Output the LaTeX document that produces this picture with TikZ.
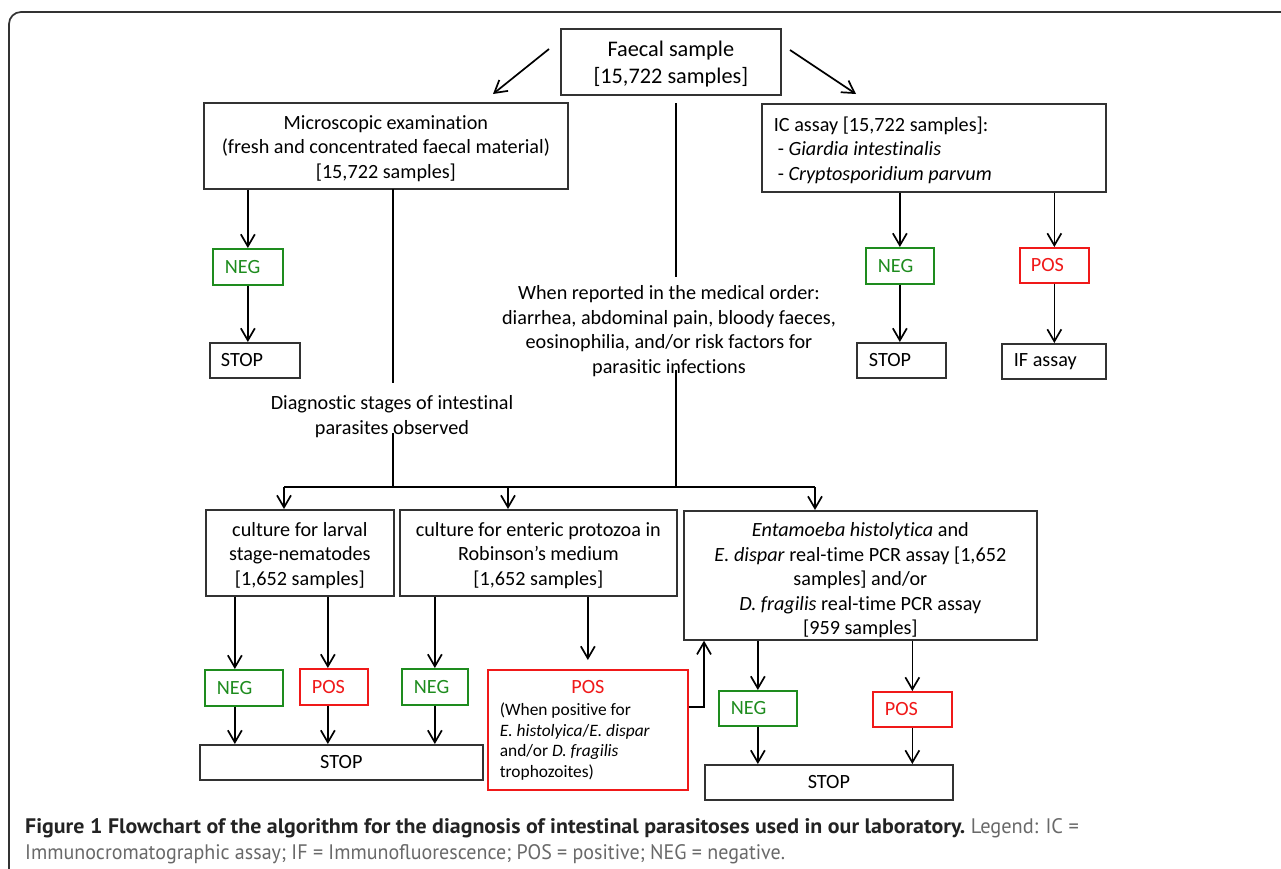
\documentclass[tikz,border=0pt]{standalone}
\usepackage{fontspec}
\setmainfont{Carlito}[Ligatures=NoCommon]
\newfontfamily\capfont{PT Sans}
\usetikzlibrary{arrows.meta}
\definecolor{negg}{RGB}{30,140,30}
\definecolor{posr}{RGB}{240,25,25}
\definecolor{boxg}{RGB}{50,50,50}
\definecolor{capgray}{RGB}{105,105,105}
\definecolor{capdark}{RGB}{35,35,35}
\tikzset{
  bx/.style={draw=boxg, line width=1.7pt, anchor=north west, inner sep=0pt,
    font=\fontsize{20.2}{24.5}\selectfont, align=center},
  lbx/.style={bx, align=flush left, inner xsep=12pt},
  negbx/.style={lbx, draw=negg, text=negg},
  posbx/.style={lbx, draw=posr, text=posr},
  txt/.style={inner sep=0pt, font=\fontsize{20.2}{24.5}\selectfont, align=center},
  ln/.style={line width=1.7pt},
  arr/.style={line width=1.7pt, -{Straight Barb[length=12pt,width=14pt,line width=1.7pt]}},
}
\begin{document}
\begin{tikzpicture}[x=1pt,y=-1pt]
\useasboundingbox (0,0) rectangle (1281,868);
\clip (0,0) rectangle (1281,868);
\fill[white] (0,0) rectangle (1281,868);
\draw[line width=1.7pt, draw=boxg, rounded corners=12pt] (9,12) rectangle (1310,900);

% top
\node[bx, minimum width=220pt, minimum height=66pt, font=\fontsize{22.3}{27}\selectfont] (faecal) at (560,28) {\rule{0pt}{20pt}Faecal sample\\{}[15,722 samples]};
\node[bx, minimum width=364pt, minimum height=86pt] (micro) at (203,102) {\rule{0pt}{19pt}Microscopic examination\\(fresh and concentrated faecal material)\\{}[15,722 samples]};
\node[lbx, minimum width=344pt, minimum height=88pt, text width=320pt] (ic) at (761,103) {\rule{0pt}{19pt}IC assay [15,722 samples]:\\\hspace*{4pt}- \textit{Giardia intestinalis}\\\hspace*{4pt}- \textit{Cryptosporidium parvum}};

\node[negbx, minimum width=70pt, minimum height=36pt, text width=46pt] (neg1) at (212,248) {NEG};
\node[lbx, minimum width=90pt, minimum height=35pt, text width=68pt, inner xsep=11pt] (stop1) at (209,342) {STOP};
\node[negbx, minimum width=68pt, minimum height=36pt, text width=44pt] (negic) at (865,247) {NEG};
\node[posbx, minimum width=69pt, minimum height=35pt, text width=47pt, inner xsep=11pt] (posic) at (1019,247) {POS};
\node[lbx, minimum width=89pt, minimum height=35pt, text width=65pt] (stopic) at (856,342) {STOP};
\node[lbx, minimum width=104pt, minimum height=35pt, text width=80pt] (ifa) at (1001,343) {IF assay};

\node[txt] (diag) at (392,416.5) {Diagnostic stages of intestinal\\parasites observed};
\node[txt] (when) at (669,331) {When reported in the medical order:\\diarrhea, abdominal pain, bloody faeces,\\eosinophilia, and/or risk factors for\\parasitic infections};

% bottom
\node[bx, minimum width=188pt, minimum height=86pt] (larval) at (205,509) {\rule{0pt}{19pt}culture for larval\\stage-nematodes\\{}[1,652 samples]};
\node[bx, minimum width=277pt, minimum height=86pt] (enteric) at (399,509) {\rule{0pt}{19pt}culture for enteric protozoa in\\Robinson’s medium\\{}[1,652 samples]};
\node[bx, minimum width=353pt, minimum height=129pt] (entam) at (683,510) {\rule{0pt}{24pt}\textit{Entamoeba histolytica} and\\\textit{E. dispar} real-time PCR assay [1,652\\samples] and/or\\\textit{D. fragilis} real-time PCR assay\\{}[959 samples]};

\node[negbx, minimum width=78pt, minimum height=36pt, text width=54pt] (neg2) at (204,669) {NEG};
\node[posbx, minimum width=68pt, minimum height=36pt, text width=44pt] (pos2) at (299,668) {POS};
\node[negbx, minimum width=66pt, minimum height=36pt, text width=42pt] (neg3) at (401,668) {NEG};
\node[bx, minimum width=283pt, minimum height=35pt] (stop2) at (199,744) {STOP};
\node[lbx, draw=posr, minimum width=200pt, minimum height=120pt, text width=176pt,
      font=\fontsize{17.4}{20.5}\selectfont] (posbig) at (487,669)
  {\textcolor{posr}{\makebox[176pt][c]{\fontsize{20.2}{24}\selectfont POS}}\\[2pt]
   (When positive for\\\textit{E. histolyica}/\textit{E. dispar}\\and/or \textit{D. fragilis}\\trophozoites)};
\node[negbx, minimum width=78pt, minimum height=35pt, text width=54pt] (neg4) at (718,690) {NEG};
\node[posbx, minimum width=79pt, minimum height=35pt, text width=55pt] (pos4) at (872,691) {POS};
\node[bx, minimum width=248pt, minimum height=35pt] (stop3) at (704,764) {STOP};

% connectors top
\coordinate (f1) at (549,49); \coordinate (f2) at (493,94);
\coordinate (f3) at (790,50); \coordinate (f4) at (856,94);
\draw[arr] (f1) -- (f2);
\draw[arr] (f3) -- (f4);

\draw[arr] (micro.south -| neg1.north) -- (neg1.north);
\draw[arr] (neg1.south) -- (stop1.north -| neg1.south);
\draw[arr] (ic.south -| negic.north) -- (negic.north);
\draw[arr] (negic.south) -- (stopic.north -| negic.south);
\draw[arr] (ic.south -| posic.north) -- (posic.north);
\draw[arr] (posic.south) -- (ifa.north -| posic.south);

% central tree
\coordinate (w1) at (676,103); \coordinate (w2) at (676,277);
\coordinate (w3) at (676,370); \coordinate (j) at (676,487);
\draw[ln] (w1) -- (w2);
\draw[ln] (w3) -- (j);
\coordinate (d1) at (393,189); \coordinate (d2) at (393,383);
\coordinate (d3) at (393,433); \coordinate (d4) at (393,487);
\draw[ln] (d1) -- (d2);
\draw[ln] (d3) -- (d4);
\coordinate (b1) at (284,487); \coordinate (b2) at (508,487); \coordinate (b3) at (815,487);
\draw[ln] (b1) -- (b3);
\draw[arr] (b1) -- (b1 |- larval.north);
\draw[arr] (b2) -- (b2 |- enteric.north);
\draw[arr] (b3) -- (b3 |- entam.north);

% bottom arrows
\coordinate (n2) at ([xshift=-9pt]neg2.north);
\coordinate (p2) at ([xshift=-6pt]pos2.north);
\draw[arr] (larval.south -| n2) -- (n2);
\draw[arr] (larval.south -| p2) -- (p2);
\draw[arr] (enteric.south -| neg3.north) -- (neg3.north);
\draw[arr] (enteric.south -| posbig.north) -- ([yshift=9pt]posbig.north);
\draw[arr] (n2 |- neg2.south) -- (n2 |- stop2.north);
\draw[arr] (p2 |- pos2.south) -- (p2 |- stop2.north);
\draw[arr] (neg3.south) -- (neg3.south |- stop2.north);
\draw[arr] ([yshift=23pt]posbig.east) -| ([xshift=21pt]entam.south west);
\draw[arr] (entam.south -| neg4.north) -- (neg4.north);
\draw[arr] (entam.south -| pos4.north) -- (pos4.north);
\draw[arr] (neg4.south) -- (neg4.south |- stop3.north);
\draw[arr] (pos4.south) -- (pos4.south |- stop3.north);

% caption
\node[anchor=base west, inner sep=0pt, font=\capfont\fontsize{21}{27}\selectfont] (cap1) at (25,833)
  {\textcolor{capdark}{\scalebox{1.043}[1]{\bfseries Figure 1 Flowchart of the algorithm for the diagnosis of intestinal parasitoses used in our laboratory.}} \textcolor{capgray}{\scalebox{0.97}[1]{Legend: IC =}}};
\node[anchor=base west, inner sep=0pt, font=\capfont\fontsize{21}{27}\selectfont, text=capgray] (cap2) at (25,859)
  {\scalebox{0.953}[1]{Immunocromatographic assay; IF = Immunofluorescence; POS = positive; NEG = negative.}};
\end{tikzpicture}
\end{document}
